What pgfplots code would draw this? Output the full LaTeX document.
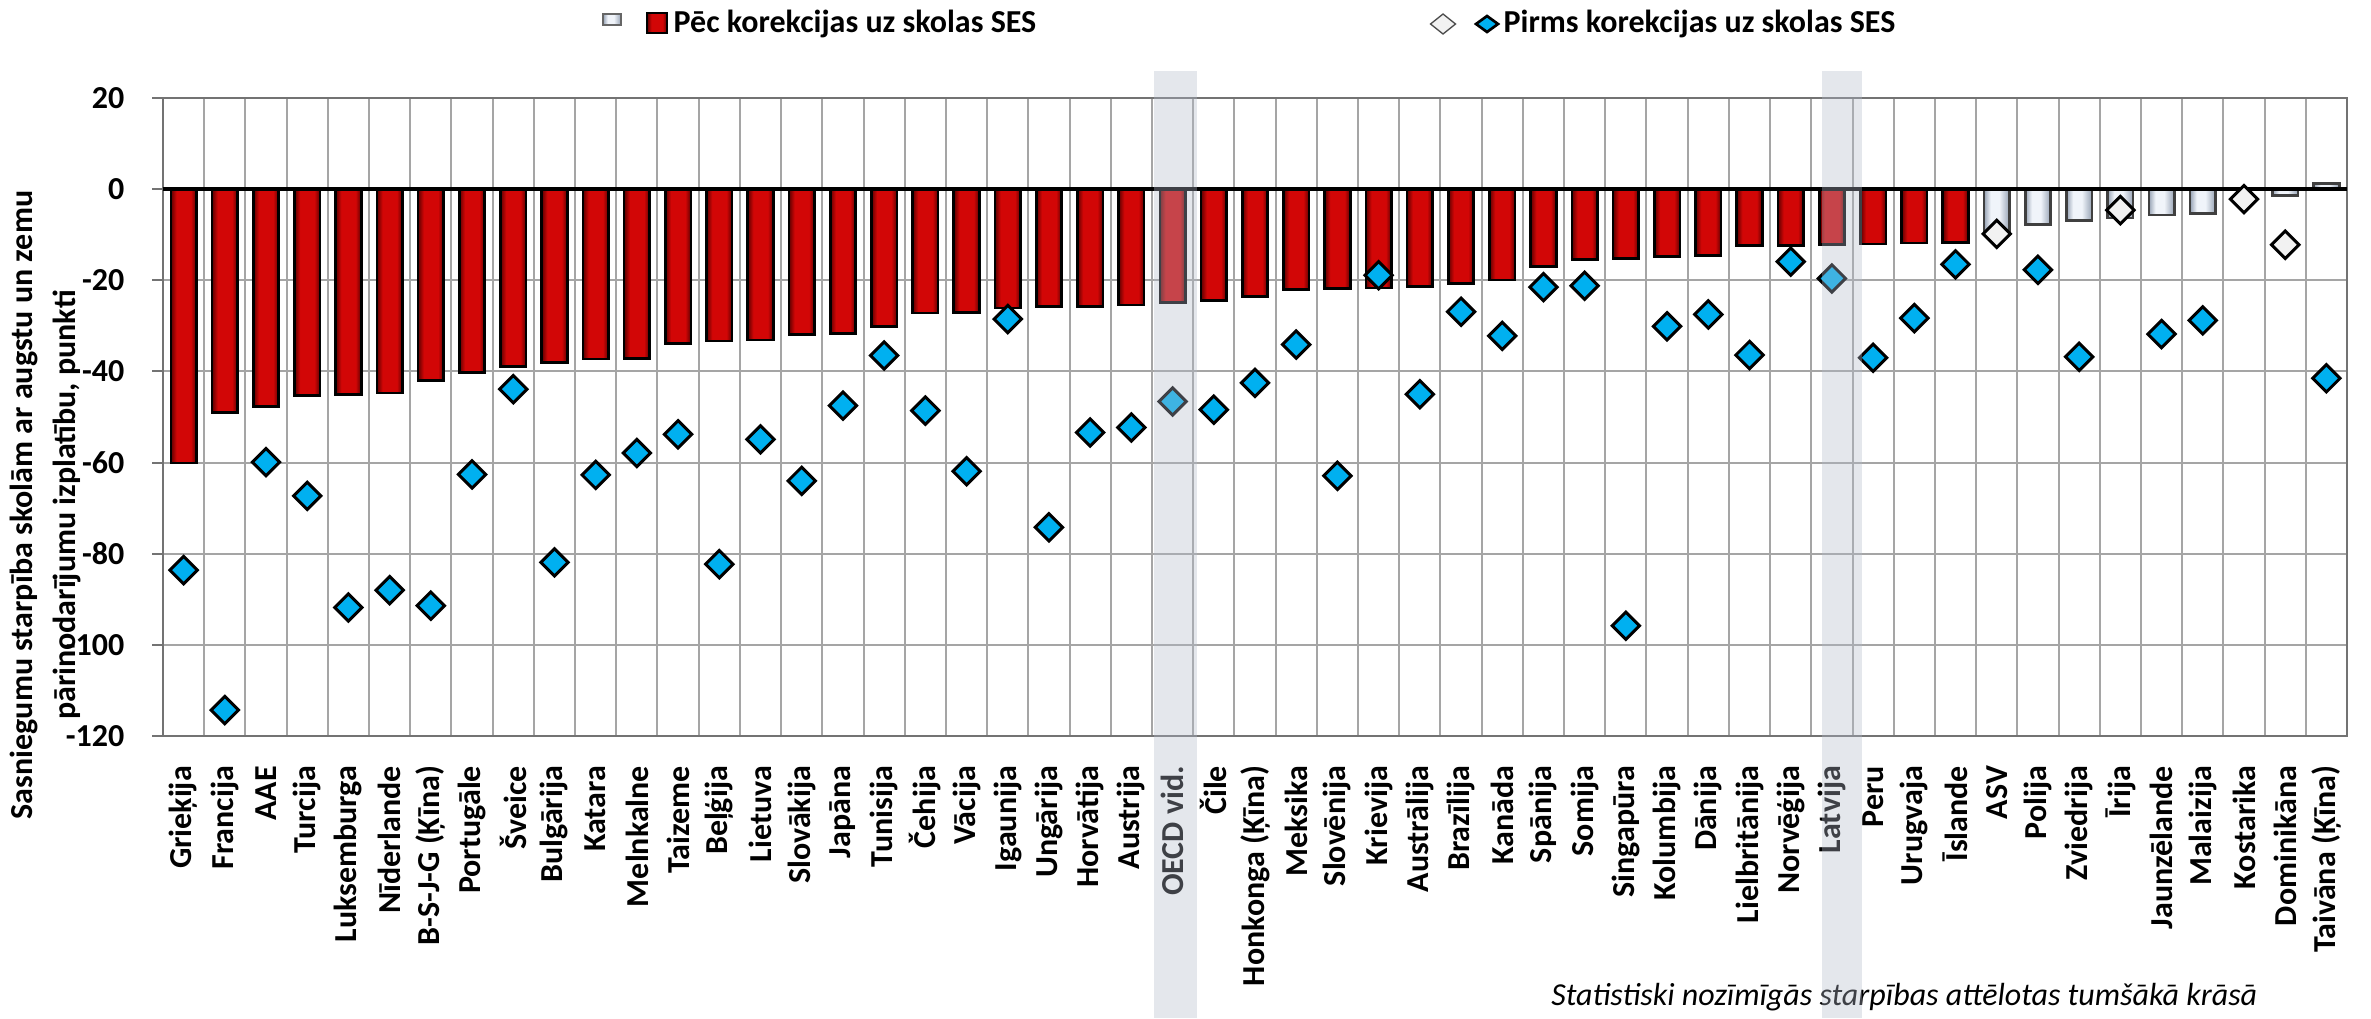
\documentclass[border=0pt]{standalone}
\usepackage{fontspec}
\setmainfont{Carlito}
\usepackage{pgfplots}
\pgfplotsset{compat=1.18}
\definecolor{dkred}{RGB}{95,0,0}
\definecolor{brred}{RGB}{210,6,6}
\definecolor{ltedge}{RGB}{150,162,180}
\definecolor{ltmid}{RGB}{240,244,250}
\definecolor{diablue}{RGB}{0,176,240}
\definecolor{diawhite}{RGB}{242,242,242}
\definecolor{bandcol}{RGB}{178,186,201}
\definecolor{gridcol}{RGB}{165,165,165}
\definecolor{framecol}{RGB}{115,115,115}
\pgfdeclarehorizontalshading{redbar}{100bp}{color(0bp)=(dkred); color(25bp)=(dkred); color(36bp)=(brred); color(64bp)=(brred); color(75bp)=(dkred); color(100bp)=(dkred)}
\pgfdeclarehorizontalshading{ltbar}{100bp}{color(0bp)=(ltedge); color(25bp)=(ltedge); color(38bp)=(ltmid); color(55bp)=(ltmid); color(75bp)=(ltedge); color(100bp)=(ltedge)}
\pgfplotsset{
  redbar/.style={ybar, bar width=7.65pt, bar shift=0pt, draw=black, line width=0.8pt, shading=redbar},
  ltbar/.style={ybar, bar width=7.65pt, bar shift=0pt, draw=black!75, line width=0.8pt, shading=ltbar},
}
\begin{document}
\begin{tikzpicture}[font=\fontsize{9.6pt}{11.5pt}\selectfont\bfseries]
\useasboundingbox (0,0) rectangle (711.3pt,-305.4pt);
% footnote (drawn first so the highlight band lies over it)
\node[anchor=base east, inner sep=0pt, font=\fontsize{9.6pt}{11.5pt}\selectfont\mdseries\itshape] at (677.4pt,-301.5pt) {Statistiski nozīmīgās starpības attēlotas tumšākā krāsā};
% legend
\draw[draw=black!60, line width=0.4pt, shading=ltbar] (180.9pt,-4.2pt) rectangle (186.3pt,-7.5pt);
\draw[draw=black, line width=0.6pt, shading=redbar] (194.1pt,-3.9pt) rectangle (200.1pt,-9.9pt);
\node[anchor=base west, inner sep=0pt] at (201.9pt,-9.6pt) {Pēc korekcijas uz skolas SES};
\draw[fill=diawhite, draw=black!70, line width=0.4pt] (429.15pt,-7.2pt) -- (432.9pt,-4.2pt) -- (436.65pt,-7.2pt) -- (432.9pt,-10.2pt) -- cycle;
\draw[fill=diablue, draw=black, line width=0.8pt] (442.8pt,-7.2pt) -- (446.1pt,-4.8pt) -- (449.4pt,-7.2pt) -- (446.1pt,-9.6pt) -- cycle;
\node[anchor=base west, inner sep=0pt] at (450.9pt,-9.6pt) {Pirms korekcijas uz skolas SES};
\begin{axis}[
  at={(48.9pt,-220.8pt)}, anchor=south west,
  scale only axis, width=655.2pt, height=191.4pt,
  xmin=-0.5, xmax=52.5, ymin=-120, ymax=20,
  clip=false,
  xtick={0,...,52},
  xticklabels={Grieķija,Francija,AAE,Turcija,Luksemburga,Nīderlande,B-S-J-G (Ķīna),Portugāle,Šveice,Bulgārija,Katara,Melnkalne,Taizeme,Beļģija,Lietuva,Slovākija,Japāna,Tunisija,Čehija,Vācija,Igaunija,Ungārija,Horvātija,Austrija,OECD vid.,Čile,Honkonga (Ķīna),Meksika,Slovēnija,Krievija,Austrālija,Brazīlija,Kanāda,Spānija,Somija,Singapūra,Kolumbija,Dānija,Lielbritānija,Norvēģija,Latvija,Peru,Urugvaja,Īslande,ASV,Polija,Zviedrija,Īrija,Jaunzēlande,Malaizija,Kostarika,Dominikāna,Taivāna (Ķīna)},
  minor xtick={0.5,1.5,...,51.5},
  xminorgrids,
  major x tick style={draw=none},
  minor x tick style={draw=none},
  ytick={-120,-100,-80,-60,-40,-20,0,20},
  yticklabels={-120,-100,-80,-60,-40,-20,0,20},
  ymajorgrids,
  grid style={draw=gridcol, line width=0.6pt},
  minor grid style={draw=gridcol, line width=0.6pt},
  axis line style={draw=framecol, line width=0.8pt},
  y tick style={draw=framecol, line width=0.6pt},
  tick align=outside, major tick length=3.3pt,
  tick pos=left,
  xticklabel style={rotate=90, anchor=east, inner sep=0pt, font=\fontsize{9.6pt}{11.5pt}\selectfont\bfseries},
  xticklabel shift=5.5pt,
  yticklabel style={anchor=east, inner sep=0pt, font=\fontsize{9.6pt}{11.5pt}\selectfont\bfseries},
  yticklabel shift=8.1pt,
  ylabel={Sasniegumu starpība skolām ar augstu un zemu\\pārinodarījumu izplatību, punkti},
  ylabel style={at={([xshift=-24.3pt]axis description cs:0,0.362)}, anchor=south, inner sep=0pt, align=center, font=\fontsize{9.6pt}{12.9pt}\selectfont\bfseries},
  after end axis/.code={
    \fill[bandcol, fill opacity=0.35] (axis cs:23.55,25.95) rectangle (axis cs:24.6,-181.8);
    \fill[bandcol, fill opacity=0.35] (axis cs:39.76,25.95) rectangle (axis cs:40.72,-181.8);
  },
]
% significant: after correction (dark red bars), one path per bar so each is shaded on its own
\addplot[redbar] coordinates {(0,-60.1)};
\addplot[redbar] coordinates {(1,-49.0)};
\addplot[redbar] coordinates {(2,-47.7)};
\addplot[redbar] coordinates {(3,-45.3)};
\addplot[redbar] coordinates {(4,-45.1)};
\addplot[redbar] coordinates {(5,-44.7)};
\addplot[redbar] coordinates {(6,-42.0)};
\addplot[redbar] coordinates {(7,-40.3)};
\addplot[redbar] coordinates {(8,-38.9)};
\addplot[redbar] coordinates {(9,-38.0)};
\addplot[redbar] coordinates {(10,-37.3)};
\addplot[redbar] coordinates {(11,-37.1)};
\addplot[redbar] coordinates {(12,-33.8)};
\addplot[redbar] coordinates {(13,-33.3)};
\addplot[redbar] coordinates {(14,-33.1)};
\addplot[redbar] coordinates {(15,-31.9)};
\addplot[redbar] coordinates {(16,-31.7)};
\addplot[redbar] coordinates {(17,-30.2)};
\addplot[redbar] coordinates {(18,-27.2)};
\addplot[redbar] coordinates {(19,-27.0)};
\addplot[redbar] coordinates {(20,-26.1)};
\addplot[redbar] coordinates {(21,-25.8)};
\addplot[redbar] coordinates {(22,-25.7)};
\addplot[redbar] coordinates {(23,-25.4)};
\addplot[redbar] coordinates {(24,-24.8)};
\addplot[redbar] coordinates {(25,-24.4)};
\addplot[redbar] coordinates {(26,-23.5)};
\addplot[redbar] coordinates {(27,-22.0)};
\addplot[redbar] coordinates {(28,-21.8)};
\addplot[redbar] coordinates {(29,-21.7)};
\addplot[redbar] coordinates {(30,-21.3)};
\addplot[redbar] coordinates {(31,-20.7)};
\addplot[redbar] coordinates {(32,-19.9)};
\addplot[redbar] coordinates {(33,-16.9)};
\addplot[redbar] coordinates {(34,-15.5)};
\addplot[redbar] coordinates {(35,-15.2)};
\addplot[redbar] coordinates {(36,-14.8)};
\addplot[redbar] coordinates {(37,-14.6)};
\addplot[redbar] coordinates {(38,-12.4)};
\addplot[redbar] coordinates {(39,-12.3)};
\addplot[redbar] coordinates {(40,-12.2)};
\addplot[redbar] coordinates {(41,-12.0)};
\addplot[redbar] coordinates {(42,-11.8)};
\addplot[redbar] coordinates {(43,-11.7)};
% not significant: after correction (light bars)
\addplot[ltbar] coordinates {(44,-9.7)};
\addplot[ltbar] coordinates {(45,-7.8)};
\addplot[ltbar] coordinates {(46,-6.9)};
\addplot[ltbar] coordinates {(47,-6.3)};
\addplot[ltbar] coordinates {(48,-5.7)};
\addplot[ltbar] coordinates {(49,-5.4)};
\addplot[ltbar] coordinates {(50,-0.2)};
\addplot[ltbar] coordinates {(51,-1.4)};
\addplot[ltbar] coordinates {(52,1.3)};
% zero line
\addplot[black, line width=1.2pt] coordinates {(-0.5,0) (52.5,0)};
% significant: before correction
\addplot[only marks, mark=square*, mark size=2.9pt, mark options={rotate=45, fill=diablue, draw=black, line width=0.9pt}] coordinates {
(0,-83.6) (1,-114.3) (2,-59.9) (3,-67.3) (4,-91.8) (5,-88.0) (6,-91.4) (7,-62.6) (8,-43.9) (9,-81.9)
(10,-62.7) (11,-57.9) (12,-53.8) (13,-82.3) (14,-54.9) (15,-64.0) (16,-47.5) (17,-36.5) (18,-48.6) (19,-61.9)
(20,-28.5) (21,-74.2) (22,-53.4) (23,-52.3) (24,-46.6) (25,-48.4) (26,-42.5) (27,-34.1) (28,-62.9) (29,-18.9)
(30,-45.0) (31,-26.9) (32,-32.2) (33,-21.5) (34,-21.2) (35,-95.8) (36,-30.1) (37,-27.5) (38,-36.4) (39,-15.9)
(40,-19.6) (41,-37.0) (42,-28.3) (43,-16.5) (45,-17.7) (46,-36.8) (48,-31.8) (49,-28.8) (52,-41.5)
};
% not significant: before correction
\addplot[only marks, mark=square*, mark size=2.9pt, mark options={rotate=45, fill=diawhite, draw=black, line width=0.9pt}] coordinates {
(44,-9.8) (47,-4.6) (50,-2.2) (51,-12.2)
};
\end{axis}
\end{tikzpicture}
\end{document}
